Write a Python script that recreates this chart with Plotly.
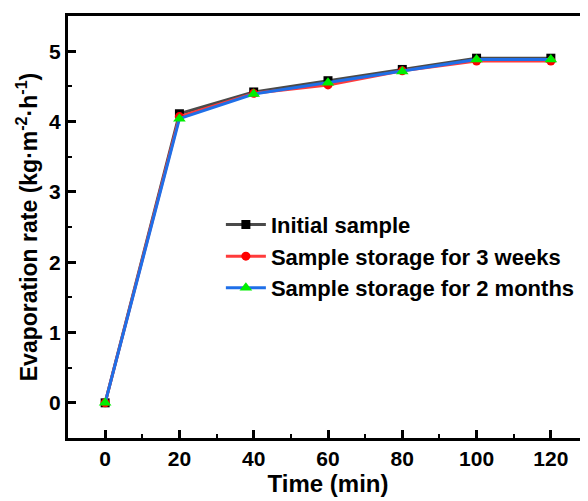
import plotly.graph_objects as go

time_min = [0, 20, 40, 60, 80, 100, 120]
initial_sample = [0.0, 4.11, 4.42, 4.58, 4.74, 4.90, 4.90]
storage_3_weeks = [0.0, 4.07, 4.40, 4.52, 4.72, 4.86, 4.86]
storage_2_months = [0.0, 4.04, 4.39, 4.55, 4.71, 4.88, 4.88]

names = ["Initial sample", "Sample storage for 3 weeks", "Sample storage for 2 months"]
series = [initial_sample, storage_3_weeks, storage_2_months]
line_colors = ["#4a4a4a", "#ff3b3b", "#1f6fe8"]
marker_colors = ["#000000", "#ff0000", "#00ee00"]
symbols = ["square", "circle", "triangle-up"]
msizes = [9, 9, 11]

fig = go.Figure()
for n, s, lc, mc, sym, ms in zip(names, series, line_colors, marker_colors, symbols, msizes):
    fig.add_trace(go.Scatter(
        x=time_min, y=s, name=n, mode="lines+markers",
        line=dict(color=lc, width=3),
        marker=dict(color=mc, symbol=sym, size=ms),
    ))

font = "Liberation Sans, Arial, sans-serif"
fig.update_layout(
    width=580, height=493,
    margin=dict(l=60, r=0, t=8, b=63, autoexpand=False),
    plot_bgcolor="white", paper_bgcolor="white",
    font=dict(family=font, color="black"),
    showlegend=True,
    legend=dict(x=0.294, y=0.555, xanchor="left", yanchor="top",
                bgcolor="rgba(0,0,0,0)", font=dict(size=22, family=font, color="black", weight="bold"),
                tracegroupgap=0, itemwidth=40),
    xaxis=dict(range=[-10, 130], tickmode="linear", tick0=0, dtick=20, automargin=False,
               showgrid=False, zeroline=False, showline=True, linecolor="#000000", linewidth=3,
               mirror=True, ticks="inside", ticklen=8, tickwidth=3, tickcolor="black",
               minor=dict(ticks="inside", ticklen=4, tickwidth=2, tickcolor="black", dtick=10, tick0=0, showgrid=False),
               tickfont=dict(size=21, family=font, weight="bold"),
               title=dict(text="Time (min)", font=dict(size=24, family=font, weight="bold"), standoff=4)),
    yaxis=dict(range=[-0.5, 5.5], tickmode="linear", tick0=0, dtick=1, automargin=False,
               showgrid=False, zeroline=False, showline=True, linecolor="#000000", linewidth=3,
               mirror=True, ticks="inside", ticklen=8, tickwidth=3, tickcolor="black",
               minor=dict(ticks="inside", ticklen=4, tickwidth=2, tickcolor="black", dtick=0.5, tick0=0, showgrid=False),
               tickfont=dict(size=21, family=font, weight="bold"),
               title=dict(text="Evaporation rate (kg·m<sup>-2</sup>·h<sup>-1</sup>)",
                          font=dict(size=23, family=font, weight="bold"), standoff=6)),
)

fig.write_html("out.html")
